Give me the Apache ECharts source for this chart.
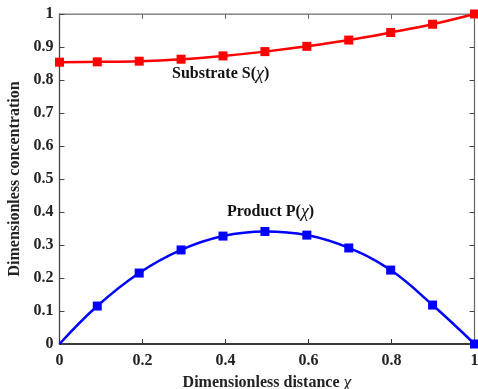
<!DOCTYPE html>
<html>
<head>
<meta charset="utf-8">
<script src="https://cdn.jsdelivr.net/npm/echarts@6/dist/echarts.min.js"></script>
<style>
  html, body { margin: 0; padding: 0; background: #fff; }
  #chart { width: 478px; height: 389px; }
</style>
</head>
<body>
<div id="chart"></div>
<script>
// x positions of the plotted points (markers every 10th grid point)
var distance = [0, 0.091, 0.192, 0.293, 0.394, 0.495, 0.596, 0.697, 0.798, 0.899, 1.0];
// substrate S(x)
var substrate = [0.854, 0.855, 0.857, 0.863, 0.873, 0.886, 0.902, 0.921, 0.944, 0.969, 1.0];
// product P(x)
var product = [0, 0.115, 0.215, 0.285, 0.327, 0.341, 0.330, 0.291, 0.224, 0.118, 0];
var xTicks = [0, 0.2, 0.4, 0.6, 0.8, 1];
var yTicks = [0, 0.1, 0.2, 0.3, 0.4, 0.5, 0.6, 0.7, 0.8, 0.9, 1];

var myChart = echarts.init(document.getElementById('chart'));
var serif = 'Liberation Serif';

function pairs(ys, hideFirst) {
    return distance.map(function (x, i) {
        var item = { value: [x, ys[i]] };
        if (hideFirst && i === 0) item.symbol = 'none';
        return item;
    });
}

var tickFmt = function (v) {
    return String(Math.round(v * 10) / 10);
};

var option = {
    animation: false,
    grid: {
        left: 59.5, right: 3.5, top: 14, bottom: 45,
        outerBoundsMode: 'none', containLabel: false,
        show: true, borderColor: '#777', borderWidth: 1
    },
    xAxis: [{
        type: 'value', min: 0, max: 1, interval: 0.2, position: 'bottom',
        name: '{b|Dimensionless distance }{i|χ}',
        nameLocation: 'middle', nameGap: 25,
        nameTextStyle: {
            rich: {
                b: { fontFamily: serif, fontWeight: 'bold', fontSize: 16, color: '#222' },
                i: { fontFamily: serif, fontStyle: 'italic', fontSize: 18, color: '#222' }
            }
        },
        axisLine: { show: true, onZero: false, lineStyle: { color: '#111', width: 1.5 } },
        axisTick: { show: true, inside: true, length: 5, lineStyle: { color: '#333' } },
        axisLabel: { margin: 9, fontFamily: serif, fontWeight: 'bold', fontSize: 16, color: '#222', formatter: tickFmt },
        splitLine: { show: false }
    }, {
        type: 'value', min: 0, max: 1, interval: 0.2, position: 'top',
        axisLine: { show: true, onZero: false, lineStyle: { color: '#888', width: 1.2 } },
        axisTick: { show: true, inside: true, length: 5, lineStyle: { color: '#666' } },
        axisLabel: { show: false },
        splitLine: { show: false }
    }],
    yAxis: [{
        type: 'value', min: 0, max: 1, interval: 0.1, position: 'left',
        name: 'Dimensionless concentration',
        nameLocation: 'middle', nameGap: 31,
        nameTextStyle: { fontFamily: serif, fontWeight: 'bold', fontSize: 16, color: '#222' },
        axisLine: { show: true, onZero: false, lineStyle: { color: '#444', width: 1.3 } },
        axisTick: { show: true, inside: true, length: 5, lineStyle: { color: '#444' } },
        axisLabel: { margin: 6, fontFamily: serif, fontWeight: 'bold', fontSize: 16, color: '#222', formatter: tickFmt },
        splitLine: { show: false }
    }, {
        type: 'value', min: 0, max: 1, interval: 0.1, position: 'right',
        axisLine: { show: true, onZero: false, lineStyle: { color: '#666', width: 1.2 } },
        axisTick: { show: true, inside: true, length: 5, lineStyle: { color: '#444' } },
        axisLabel: { show: false },
        splitLine: { show: false }
    }],
    series: [{
        name: 'Substrate', type: 'line', smooth: 0.4, clip: false,
        symbol: 'rect', symbolSize: 9,
        lineStyle: { color: '#ff0000', width: 2.5 },
        itemStyle: { color: '#ff0000' },
        data: pairs(substrate, false)
    }, {
        name: 'Product', type: 'line', smooth: 0.4, clip: false,
        symbol: 'rect', symbolSize: 9,
        lineStyle: { color: '#0000ff', width: 2.5 },
        itemStyle: { color: '#0000ff' },
        data: pairs(product, true)
    }],
    graphic: [{
        type: 'text', left: 172, top: 65,
        style: {
            text: '{b|Substrate S(}{i|χ}{b|)}',
            rich: {
                b: { fontFamily: serif, fontWeight: 'bold', fontSize: 16, fill: '#111' },
                i: { fontFamily: serif, fontStyle: 'italic', fontSize: 18, fill: '#111' }
            }
        }
    }, {
        type: 'text', left: 227, top: 203,
        style: {
            text: '{b|Product P(}{i|χ}{b|)}',
            rich: {
                b: { fontFamily: serif, fontWeight: 'bold', fontSize: 16, fill: '#111' },
                i: { fontFamily: serif, fontStyle: 'italic', fontSize: 18, fill: '#111' }
            }
        }
    }]
};

myChart.setOption(option);
</script>
</body>
</html>
